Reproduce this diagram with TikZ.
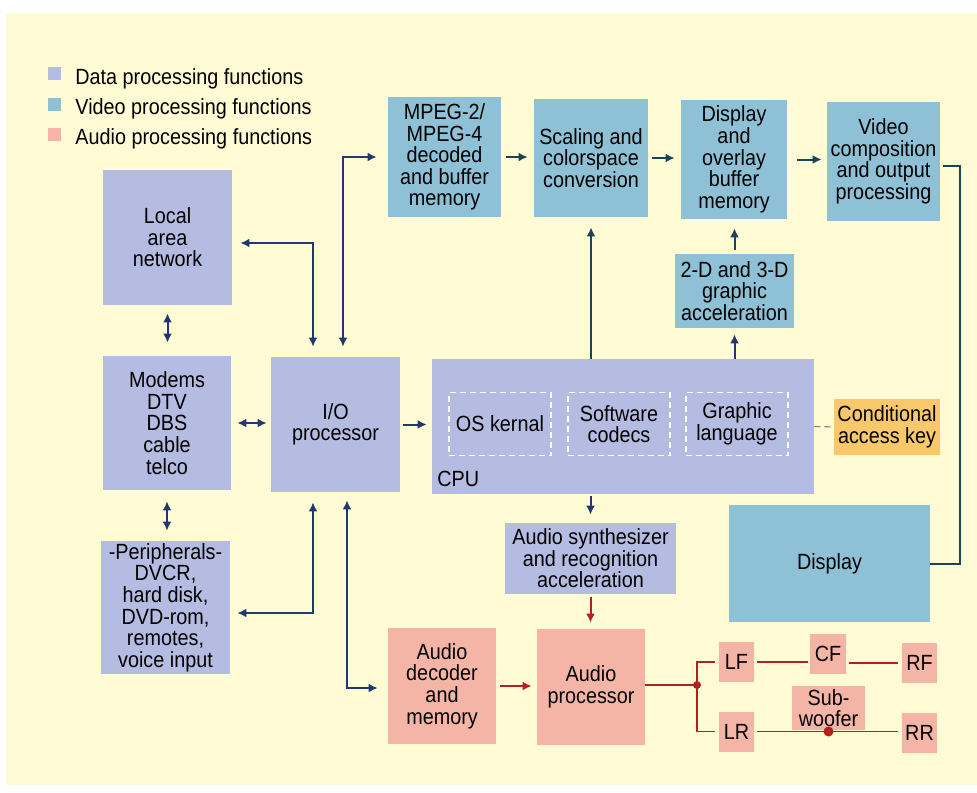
\documentclass[tikz,border=0pt]{standalone}
\usepackage{fontspec}
\setmainfont{Liberation Sans}[FakeStretch=0.9]
\usepackage{tikz}
\usetikzlibrary{arrows.meta}

\definecolor{bgyellow}{RGB}{255,251,212}
\definecolor{datablue}{RGB}{181,188,226}
\definecolor{videoblue}{RGB}{142,193,214}
\definecolor{audiored}{RGB}{245,181,166}
\definecolor{keyorange}{RGB}{249,200,106}
\definecolor{navy}{RGB}{32,56,112}
\definecolor{darkteal}{RGB}{26,68,88}
\definecolor{wirered}{RGB}{178,32,32}

\begin{document}
\begin{tikzpicture}[x=0.5pt, y=-0.5pt, >={Latex[length=4.5pt,width=4.5pt]},
every node/.style={font=\fontsize{11pt}{10.8pt}\selectfont, align=center, inner sep=0pt},
datanode/.style={rectangle, fill=datablue},
videonode/.style={rectangle, fill=videoblue},
audionode/.style={rectangle, fill=audiored},
keynode/.style={rectangle, fill=keyorange},
softnode/.style={rectangle, draw=white, densely dashed, line width=0.6pt, minimum width=51pt, minimum height=31.5pt},
spknode/.style={rectangle, fill=audiored, minimum width=17.5pt, minimum height=20pt},
legbox/.style={rectangle, minimum size=6.5pt},
dataline/.style={draw=navy, line width=1pt},
videoline/.style={draw=darkteal, line width=1pt},
audioline/.style={draw=wirered, line width=0.9pt},
]
%Background
\fill[white] (0,0) rectangle (977,792);
\fill[bgyellow] (6,13) rectangle (977,785);

%Legend
\node[legbox, fill=datablue]  (legdata)  at (54.5,74)  {};
\node[legbox, fill=videoblue] (legvideo) at (54.5,104) {};
\node[legbox, fill=audiored]  (legaudio) at (54.5,134) {};
\node[anchor=base west] (legdatatext)  at (75,84)  {Data processing functions};
\node[anchor=base west] (legvideotext) at (75,114) {Video processing functions};
\node[anchor=base west] (legaudiotext) at (75,144) {Audio processing functions};

%Nodes
\node[datanode, minimum width=64.5pt, minimum height=67.5pt] (lan)     at (167.5,237.5) {Local\\area\\network};
\node[datanode, minimum width=64pt,   minimum height=67pt]   (modems)  at (167,423)     {Modems\\DTV\\DBS\\cable\\telco};
\node[datanode, minimum width=64.5pt, minimum height=66.5pt] (periph)  at (165.5,607.5) {-Peripherals-\\DVCR,\\hard disk,\\DVD-rom,\\remotes,\\voice input};
\node[datanode, minimum width=64.5pt, minimum height=67.5pt] (io)      at (335.5,424.5) {I/O\\processor};
\node[datanode, minimum width=191pt,  minimum height=67.5pt] (cpu)     at (623,426.5)   {};
\node[softnode]                                              (oskern)  at (500,424)     {OS kernal};
\node[softnode]                                              (codecs)  at (619,424)     {Software\\codecs};
\node[softnode]                                              (graphl)  at (737,424)     {Graphic\\language};
\node[anchor=base west]                                      (cpulabel) at (437,486)    {CPU};
\node[keynode, minimum width=53pt, minimum height=28pt]      (condkey) at (887,427)     {Conditional\\access key};
\node[datanode, minimum width=85.5pt, minimum height=35.5pt] (synth)   at (590.5,558.5) {Audio synthesizer\\and recognition\\acceleration};

\node[videonode, minimum width=56.5pt, minimum height=60pt]   (mpeg)    at (444.5,157)   {MPEG-2/\\MPEG-4\\decoded\\and buffer\\memory};
\node[videonode, minimum width=57pt,   minimum height=59pt]   (scaling) at (591,158)     {Scaling and\\colorspace\\conversion};
\node[videonode, minimum width=53pt,   minimum height=59.5pt] (dispov)  at (734,159.5)   {Display\\and\\overlay\\buffer\\memory};
\node[videonode, minimum width=56.5pt, minimum height=59.5pt] (vidcomp) at (883.5,161.5) {Video\\composition\\and output\\processing};
\node[videonode, minimum width=59.5pt, minimum height=37pt]   (twod)    at (734.5,291)   {2-D and 3-D\\graphic\\acceleration};
\node[videonode, minimum width=100.5pt, minimum height=58.5pt] (display) at (829.5,563.5) {Display};

\node[audionode, minimum width=54pt, minimum height=58pt] (adec)  at (442,686) {Audio\\decoder\\and\\memory};
\node[audionode, minimum width=54pt, minimum height=58pt] (aproc) at (591,687) {Audio\\processor};
\node[spknode] (lf) at (736.5,662)   {LF};
\node[spknode] (lr) at (736.5,731.5) {LR};
\node[spknode, minimum width=18pt] (cf) at (828,653.5) {CF};
\node[spknode] (rf) at (919.5,663)   {RF};
\node[spknode] (rr) at (919.5,732.5) {RR};
\node[audionode, minimum width=36.5pt, minimum height=22pt] (sub) at (828.5,708) {Sub-\\woofer};
\coordinate (split) at (697,685);
\coordinate (vidturn) at (960,166);

%Lines
\draw[dataline, <->, shorten <=4pt, shorten >=6.5pt] (lan.south) -- (lan.south |- modems.north);
\draw[dataline, <->, shorten <=5.5pt, shorten >=5pt] (modems.south) -- (modems.south |- periph.north);
\draw[dataline, <->, shorten <=3pt, shorten >=2pt] (modems.east) -- (modems.east -| io.west);
\draw[dataline, ->, shorten <=1.5pt, shorten >=2.5pt] (io.east) -- (io.east -| cpu.west);
\draw[dataline, <->, shorten <=4pt, shorten >=5pt] ([yshift=-2.75pt]lan.east) -| ([xshift=-11.25pt]io.north);
\draw[dataline, <->, shorten <=5pt, shorten >=5.5pt] ([xshift=3.75pt]io.north) |- (mpeg.west);
\draw[dataline, <->, shorten <=5pt, shorten >=3.5pt] ([xshift=-11.25pt]io.south) |- ([yshift=-2.75pt]periph.east);
\draw[dataline, <->, shorten <=4pt, shorten >=5pt] ([xshift=5.75pt]io.south) |- ([yshift=-1pt]adec.west);
\draw[dataline, ->, shorten <=1pt, shorten >=4pt] (cpu.south -| synth.north) -- (synth.north);
\draw[gray, densely dashed, line width=0.6pt] (cpu.east) -- (condkey.west);

\draw[videoline, ->, shorten <=2.5pt, shorten >=3pt] (mpeg.east) -- (mpeg.east -| scaling.west);
\draw[videoline, ->, shorten <=2pt, shorten >=3pt] (scaling.east) -- (scaling.east -| dispov.west);
\draw[videoline, ->, shorten <=5pt, shorten >=2.5pt] (dispov.east) -- (dispov.east -| vidcomp.west);
\draw[videoline, ->, shorten <=2pt, shorten >=4.5pt] (twod.north) -- (twod.north |- dispov.south);
\draw[dataline, ->, shorten >=3pt] (cpu.north -| twod.south) -- (twod.south);
\draw[videoline, ->, shorten >=5pt] (cpu.north -| scaling.south) -- (scaling.south);
\draw[videoline, shorten <=1.5pt] ([yshift=-2.25pt]vidcomp.east) -- (vidturn) |- (display.east);

\draw[audioline, ->, line width=1pt, shorten <=1.5pt, shorten >=3pt] (synth.south) -- (synth.south |- aproc.north);
\draw[audioline, ->, line width=1pt, shorten <=2pt, shorten >=2.5pt] (adec.east) -- (adec.east -| aproc.west);
\draw[audioline] (aproc.east |- split) -- (split);
\draw[audioline, shorten <=2pt, shorten >=2pt] (lf.west) -| (split) |- (lr.west);
\draw[audioline, shorten <=1.5pt, shorten >=1pt] (lf.east) -- (lf.east -| cf.west);
\draw[audioline, shorten <=1.5pt, shorten >=2pt] (cf.east |- rf.west) -- (rf.west);
\draw[audioline, shorten <=1.5pt, shorten >=2pt] (lr.east) -- (lr.east -| rr.west);
\fill[wirered] (split) circle (2pt);
\fill[wirered] (sub.south |- lr.east) circle (2.5pt);
\end{tikzpicture}
\end{document}
